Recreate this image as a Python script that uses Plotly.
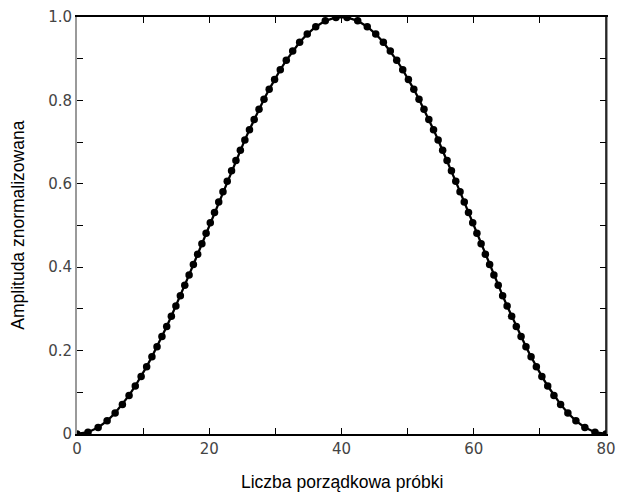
import plotly.graph_objects as go

# Sample positions (x) and normalized amplitudes (y)
sample_x = [
    0.000, 1.663, 3.193, 4.554, 5.768, 6.866, 7.875, 8.813, 9.695, 10.532,
    11.332, 12.101, 12.844, 13.566, 14.269, 14.957, 15.632, 16.297, 16.953, 17.602,
    18.246, 18.885, 19.523, 20.159, 20.796, 21.434, 22.076, 22.722, 23.374, 24.034,
    24.704, 25.385, 26.083, 26.793, 27.525, 28.280, 29.064, 29.881, 30.740, 31.648,
    32.620, 33.670, 34.823, 36.106, 37.550, 39.158,
    40.842, 42.450, 43.894, 45.177, 46.330, 47.380, 48.352, 49.260, 50.119, 50.936,
    51.720, 52.475, 53.207, 53.917, 54.615, 55.296, 55.966, 56.626, 57.278, 57.924,
    58.566, 59.204, 59.841, 60.477, 61.115, 61.754, 62.398, 63.047, 63.703, 64.368,
    65.043, 65.731, 66.434, 67.156, 67.899, 68.668, 69.468, 70.305, 71.187, 72.125,
    73.134, 74.232, 75.446, 76.807, 78.337, 80.000,
]
amplitude = [
    0.0000, 0.0043, 0.0156, 0.0316, 0.0504, 0.0710, 0.0926, 0.1151, 0.1381, 0.1615,
    0.1853, 0.2093, 0.2336, 0.2579, 0.2825, 0.3071, 0.3318, 0.3566, 0.3815, 0.4064,
    0.4313, 0.4563, 0.4813, 0.5063, 0.5312, 0.5562, 0.5812, 0.6061, 0.6310, 0.6558,
    0.6805, 0.7052, 0.7299, 0.7543, 0.7786, 0.8027, 0.8266, 0.8503, 0.8735, 0.8962,
    0.9183, 0.9395, 0.9592, 0.9768, 0.9908, 0.9989,
    0.9989, 0.9908, 0.9768, 0.9592, 0.9395, 0.9183, 0.8962, 0.8735, 0.8503, 0.8266,
    0.8027, 0.7786, 0.7543, 0.7299, 0.7052, 0.6805, 0.6558, 0.6310, 0.6061, 0.5812,
    0.5562, 0.5312, 0.5063, 0.4813, 0.4563, 0.4313, 0.4064, 0.3815, 0.3566, 0.3318,
    0.3071, 0.2825, 0.2579, 0.2336, 0.2093, 0.1853, 0.1615, 0.1381, 0.1151, 0.0926,
    0.0710, 0.0504, 0.0316, 0.0156, 0.0043, 0.0000,
]

x_tickvals = [0, 20, 40, 60, 80]
x_ticktext = ["0", "20", "40", "60", "80"]
y_tickvals = [0, 0.2, 0.4, 0.6, 0.8, 1.0]
y_ticktext = ["0", "0.2", "0.4", "0.6", "0.8", "1.0"]
x_title = "Liczba porządkowa próbki"
y_title = "Amplituda znormalizowana"

fig = go.Figure()
fig.add_trace(go.Scatter(
    x=sample_x, y=amplitude, mode="lines+markers",
    line=dict(color="black", width=2.3),
    marker=dict(color="black", size=7.5),
    showlegend=False, hoverinfo="skip",
))

tick_font = dict(family="DejaVu Sans", size=15, color="#444")
title_font = dict(family="Liberation Sans, Arial", size=17.5, color="black")

fig.update_layout(
    width=618, height=493,
    margin=dict(l=77, r=12, t=17, b=59, autoexpand=False),
    paper_bgcolor="white", plot_bgcolor="white",
    xaxis=dict(
        range=[0, 80], showgrid=False, zeroline=False, automargin=False,
        showline=True, linecolor="black", linewidth=1.5, mirror="ticks",
        ticks="inside", ticklen=6, tickwidth=1.3, tickcolor="black",
        tickmode="array", tickvals=list(range(0, 81, 10)),
        ticktext=[x_ticktext[x_tickvals.index(v)] if v in x_tickvals else "" for v in range(0, 81, 10)],
        tickfont=tick_font,
    ),
    yaxis=dict(
        range=[0, 1.0], showgrid=False, zeroline=False, automargin=False,
        showline=True, linecolor="#9a9a9a", linewidth=2, mirror="ticks",
        ticks="inside", ticklen=6, tickwidth=1.3, tickcolor="black",
        tickmode="array", tickvals=[round(i * 0.1, 1) for i in range(11)],
        ticktext=[y_ticktext[y_tickvals.index(round(i * 0.1, 1))] if round(i * 0.1, 1) in y_tickvals else "" for i in range(11)],
        tickfont=tick_font,
    ),
    shapes=[dict(type="line", xref="paper", yref="paper", x0=1, x1=1, y0=0, y1=1,
                 line=dict(color="black", width=1.5), layer="above")],
    annotations=[
        dict(text=x_title, xref="paper", yref="paper", x=0.5, y=-0.115,
             xanchor="center", yanchor="middle", showarrow=False, font=title_font),
        dict(text=y_title, xref="paper", yref="paper", x=-0.113, y=0.5,
             xanchor="center", yanchor="middle", showarrow=False, textangle=-90, font=title_font),
    ],
)

fig.write_html("out.html")
